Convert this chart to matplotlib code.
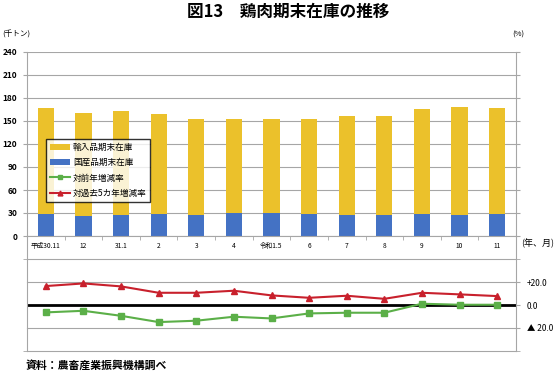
import matplotlib
matplotlib.use("Agg")
import matplotlib.pyplot as plt
from matplotlib.patches import Patch
from matplotlib.lines import Line2D
import numpy as np

plt.rcParams['font.family'] = ['Noto Sans CJK JP', 'DejaVu Sans']

months = ['平成30.11', '12', '31.1', '2', '3', '4', '令和1.5', '6', '7', '8', '9', '10', '11']
domestic = [28.7, 25.7, 27.4, 28.7, 27.0, 30.0, 30.0, 29.0, 28.0, 28.0, 29.0, 28.0, 29.0]
imported = [137.8, 134.7, 135.2, 130.3, 125.0, 123.0, 123.0, 124.0, 129.0, 129.0, 136.0, 140.0, 138.5]
yoy = [-6.4, -5.0, -9.4, -14.9, -13.7, -10.2, -11.7, -7.3, -6.7, -6.7, 1.2, 0.3, 0.3]
vs5y = [16.7, 19.0, 16.4, 10.8, 10.8, 12.6, 8.5, 6.4, 8.2, 5.5, 10.8, 9.4, 7.9]

left_ticks = [0, 30, 60, 90, 120, 150, 180, 210, 240]
right_ticks = [20, 0, -20]
right_labels = ['+20.0', '0.0', '▲ 20.0']

YEL = '#EBC12B'
BLU = '#4472C4'
RED = '#C8202C'
GRN = '#5BAF48'
GRID = '#A6A6A6'

W, H = 555, 374
fig = plt.figure(figsize=(W / 100, H / 100), dpi=100)

L, R = 27, 516
def fx(x): return x / W
def fy(y): return 1 - y / H

ax2 = fig.add_axes([fx(L), fy(350.7), fx(R - L), (350.7 - 236) / H])
ax1 = fig.add_axes([fx(L), fy(236), fx(R - L), (236 - 52) / H])
ax1.set_zorder(3)
ax1.patch.set_alpha(0)

x = np.arange(len(months))

# ---- top panel (bars)
ax1.bar(x, domestic, width=0.43, color=BLU, zorder=2)
ax1.bar(x, imported, width=0.43, bottom=domestic, color=YEL, zorder=2)
ax1.set_xlim(-0.5, len(months) - 0.5)
ax1.set_ylim(0, 240)
ax1.set_yticks(left_ticks)
ax1.set_yticklabels([str(t) for t in left_ticks], fontsize=6, fontweight='bold')
ax1.yaxis.grid(True, color=GRID, lw=0.8, zorder=0)
ax1.set_axisbelow(True)
ax1.tick_params(axis='y', length=3, color=GRID, pad=4, right=True)
ax1.set_xticks(x)
ax1.set_xticklabels(months, fontsize=4.8)
ax1.tick_params(axis='x', length=0, pad=4)
ax1.set_xticks(np.arange(-0.5, len(months) + 0.5, 1), minor=True)
ax1.tick_params(axis='x', which='minor', length=3, color=GRID, direction='out')
ax1.spines['top'].set_visible(False)
for s in ['left', 'right', 'bottom']:
    ax1.spines[s].set_color(GRID)
    ax1.spines[s].set_linewidth(0.8)

# ---- bottom panel (lines)
ax2.plot(x, yoy, color=GRN, lw=1.5, marker='s', ms=4, zorder=3)
ax2.plot(x, vs5y, color=RED, lw=1.5, marker='^', ms=4.2, zorder=3)
ax2.axhline(0, color='black', lw=2, zorder=2)
ax2.set_xlim(-0.5, len(months) - 0.5)
ax2.set_ylim(-40, 60.6)
for g in [-40, -20, 20, 40]:
    ax2.axhline(g, color=GRID, lw=0.8, zorder=1, clip_on=False)
ax2.set_xticks([])
ax2.yaxis.tick_right()
ax2.set_yticks(right_ticks)
ax2.set_yticklabels(right_labels, fontsize=6)
ax2.set_yticks([-40, -20, 0, 20, 40], minor=True)
ax2.tick_params(axis='y', which='both', length=3, color=GRID, pad=5)
ax2.tick_params(axis='y', which='minor', left=True, right=True)
ax2.spines['top'].set_visible(False)
ax2.spines['bottom'].set_visible(False)
for s in ['left', 'right']:
    ax2.spines[s].set_color(GRID)
    ax2.spines[s].set_linewidth(0.8)

# ---- legend
handles = [
    Patch(facecolor=YEL, edgecolor='none'),
    Patch(facecolor=BLU, edgecolor='none'),
    Line2D([], [], color=GRN, lw=1.5, marker='s', ms=3),
    Line2D([], [], color=RED, lw=1.5, marker='^', ms=3.5),
]
labels = ['輸入品期末在庫', '国産品期末在庫', '対前年増減率', '対過去5カ年増減率']
leg = ax1.legend(handles, labels, loc='upper left', bbox_to_anchor=(fx(45.7), fy(138.7)),
                 bbox_transform=fig.transFigure, fontsize=6.2, frameon=True, fancybox=False,
                 borderpad=0.45, labelspacing=0.75, handlelength=2.4, handletextpad=0.3,
                 borderaxespad=0)
leg.get_frame().set_edgecolor('black')
leg.get_frame().set_linewidth(1.0)
leg.set_zorder(10)

# ---- texts
fig.text(0.52, fy(12), '図13　鶏肉期末在庫の推移', ha='center', va='center',
         fontsize=12, fontweight='bold')
fig.text(fx(2), fy(35), '(千トン)', ha='left', va='center', fontsize=5.5)
fig.text(fx(512), fy(35), '(%)', ha='left', va='center', fontsize=5.5)
fig.text(fx(521), fy(243), '(年、月)', ha='left', va='center', fontsize=6.5)
fig.text(fx(26), fy(365), '資料：農畜産業振興機構調べ', ha='left', va='center',
         fontsize=7.8, fontweight='bold')

fig.savefig('out.png', dpi=100)
